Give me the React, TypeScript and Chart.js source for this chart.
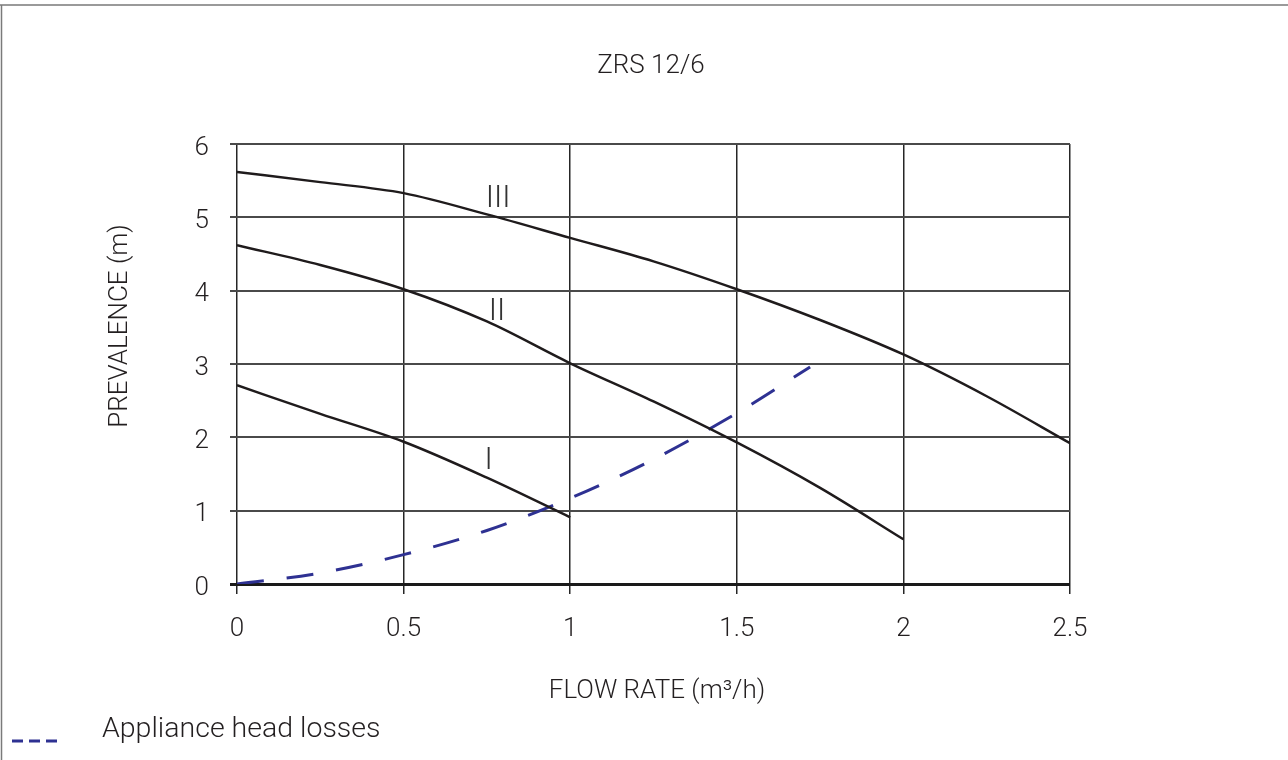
import { useEffect, useRef } from "react";
import { Chart, registerables } from "chart.js";

Chart.register(...registerables);

// ---- data ----
const flowIII = [0, 0.25, 0.5, 0.75, 1, 1.25, 1.5, 1.75, 2, 2.25, 2.5];
const headIII = [5.62, 5.48, 5.33, 5.04, 4.72, 4.4, 4.02, 3.6, 3.13, 2.56, 1.92];

const flowII = [0, 0.25, 0.5, 0.75, 1, 1.25, 1.5, 1.75, 2];
const headII = [4.62, 4.35, 4.02, 3.58, 3.01, 2.49, 1.93, 1.31, 0.61];

const flowI = [0, 0.25, 0.5, 0.75, 1];
const headI = [2.71, 2.32, 1.94, 1.45, 0.91];

const flowLoss = [0, 0.25, 0.5, 0.75, 1, 1.25, 1.5, 1.72];
const headLoss = [0, 0.15, 0.4, 0.73, 1.17, 1.7, 2.33, 2.96];

const xTickValues = [0, 0.5, 1, 1.5, 2, 2.5];
const xTickLabels = ["0", "0.5", "1", "1.5", "2", "2.5"];
const yTickValues = [0, 1, 2, 3, 4, 5, 6];
const yTickLabels = ["0", "1", "2", "3", "4", "5", "6"];

const curveLabels = ["III", "II", "I"];
const curveLabelFlow = [0.784, 0.78, 0.755];
const curveLabelHead = [5.25, 3.71, 1.68];

const chartTitle = "ZRS 12/6";
const xTitle = "FLOW RATE (m³/h)";
const yTitle = "PREVALENCE (m)";
const legendLabel = "Appliance head losses";

// ---- styles ----
const FONT = "Roboto, 'Liberation Sans', sans-serif";
const TEXT = "#231f20";
const CURVE = "#1f1b1c";
const LOSS = "#2e3192";

const toPoints = (xs: number[], ys: number[]) => xs.map((x, i) => ({ x, y: ys[i] }));

export default function App() {
  const ref = useRef<HTMLCanvasElement>(null);

  useEffect(() => {
    const canvas = ref.current;
    if (!canvas) return;

    const decor = {
      id: "decor",
      beforeDraw(chart: any) {
        const c = chart.ctx;
        c.save();
        c.fillStyle = "#ffffff";
        c.fillRect(0, 0, chart.width, chart.height);
        c.strokeStyle = "#7a7a7a";
        c.lineWidth = 1.5;
        c.beginPath();
        c.moveTo(0, 5);
        c.lineTo(chart.width, 5);
        c.moveTo(1.5, 5);
        c.lineTo(1.5, chart.height);
        c.stroke();
        c.restore();
      },
      afterDraw(chart: any) {
        const c = chart.ctx;
        const xs = chart.scales.x;
        const ys = chart.scales.y;
        c.save();
        c.fillStyle = TEXT;
        c.textBaseline = "middle";
        c.textAlign = "center";
        c.font = `300 26px ${FONT}`;
        c.fillText(chartTitle, 651, 66);
        c.fillText(xTitle, 657, 691);

        c.save();
        c.translate(120, 326);
        c.rotate(-Math.PI / 2);
        c.fillText(yTitle, 0, 0);
        c.restore();

        // curve labels
        c.font = `300 31px ${FONT}`;
        c.fillStyle = "#333333";
        curveLabels.forEach((t, i) => {
          c.fillText(t, xs.getPixelForValue(curveLabelFlow[i]), ys.getPixelForValue(curveLabelHead[i]));
        });

        // legend
        c.strokeStyle = LOSS;
        c.lineWidth = 3;
        c.beginPath();
        [12, 29, 46].forEach((x0) => {
          c.moveTo(x0, 741);
          c.lineTo(x0 + 11, 741);
        });
        c.stroke();
        c.fillStyle = TEXT;
        c.textAlign = "left";
        c.font = `300 28.5px ${FONT}`;
        c.fillText(legendLabel, 102, 730);
        c.restore();
      },
    };

    const tickFont = { family: FONT, size: 26, weight: "300" as any };

    const chart = new Chart(canvas, {
      type: "line",
      data: {
        datasets: [
          {
            label: "III",
            data: toPoints(flowIII, headIII),
            borderColor: CURVE,
            borderWidth: 2.5,
            pointRadius: 0,
            cubicInterpolationMode: "monotone",
            fill: false,
          },
          {
            label: "II",
            data: toPoints(flowII, headII),
            borderColor: CURVE,
            borderWidth: 2.5,
            pointRadius: 0,
            cubicInterpolationMode: "monotone",
            fill: false,
          },
          {
            label: "I",
            data: toPoints(flowI, headI),
            borderColor: CURVE,
            borderWidth: 2.5,
            pointRadius: 0,
            cubicInterpolationMode: "monotone",
            fill: false,
          },
          {
            label: legendLabel,
            data: toPoints(flowLoss, headLoss),
            borderColor: LOSS,
            borderWidth: 3,
            borderDash: [27, 23],
            pointRadius: 0,
            cubicInterpolationMode: "monotone",
            fill: false,
          },
        ],
      },
      options: {
        animation: false,
        responsive: false,
        devicePixelRatio: 1,
        layout: { padding: { top: 144, right: 218, left: 0, bottom: 0 } },
        plugins: {
          legend: { display: false },
          tooltip: { enabled: false },
          title: { display: false },
        },
        scales: {
          x: {
            type: "linear",
            min: 0,
            max: 2.5,
            afterFit: (s: any) => {
              s.height = 176;
            },
            afterBuildTicks: (s: any) => {
              s.ticks = xTickValues.map((v) => ({ value: v }));
            },
            ticks: {
              callback: (_v: any, i: number) => xTickLabels[i],
              padding: 20,
              font: tickFont,
              color: TEXT,
              maxRotation: 0,
              autoSkip: false,
            },
            grid: { color: "#262626", lineWidth: 1.5, tickLength: 10, drawTicks: true },
            border: { display: false },
          },
          y: {
            type: "linear",
            min: 0,
            max: 6,
            afterFit: (s: any) => {
              s.width = 237;
            },
            afterBuildTicks: (s: any) => {
              s.ticks = yTickValues.map((v) => ({ value: v }));
            },
            ticks: {
              callback: (_v: any, i: number) => yTickLabels[i],
              padding: 21,
              labelOffset: 4,
              font: tickFont,
              color: TEXT,
              autoSkip: false,
            },
            grid: {
              color: (ctx: any) => (ctx.tick && ctx.tick.value === 0 ? "#1a1a1a" : "#4a4a4a"),
              lineWidth: (ctx: any) => (ctx.tick && ctx.tick.value === 0 ? 3 : 2),
              tickLength: 7,
              drawTicks: true,
            },
            border: { display: false },
          },
        },
      },
      plugins: [decor],
    });

    return () => chart.destroy();
  }, []);

  return (
    <div style={{ position: "fixed", left: 0, top: 0, width: 1288, height: 760, background: "#fff" }}>
      <canvas ref={ref} width={1288} height={760} style={{ display: "block" }} />
    </div>
  );
}
